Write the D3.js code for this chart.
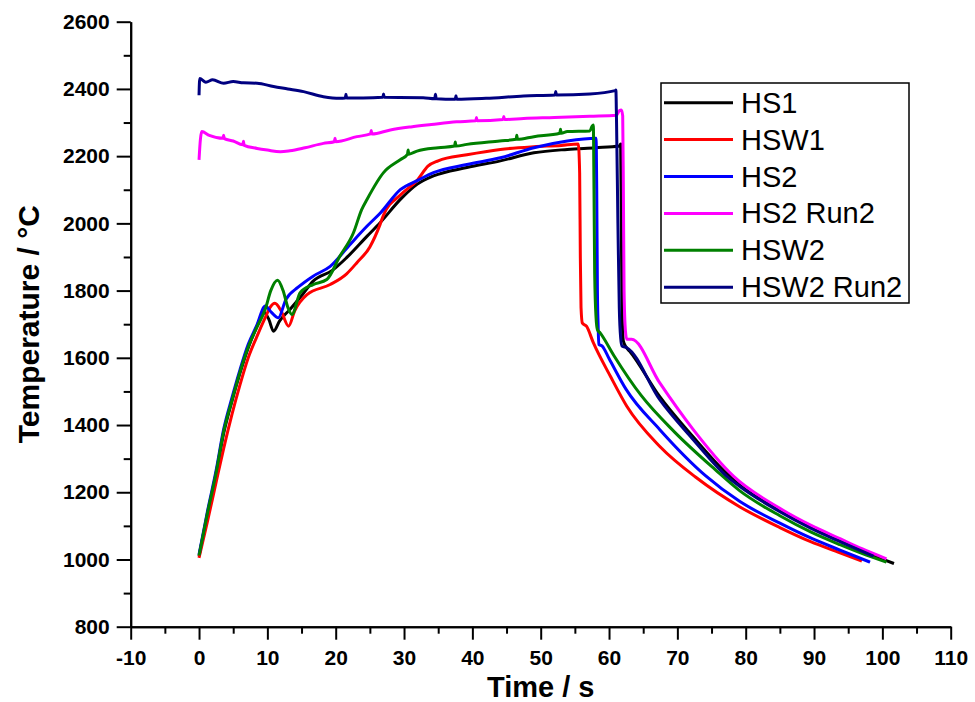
<html>
<head>
    <style>
        body { margin: 0; background: white; font-family: "Liberation Sans", Arial, sans-serif; }
        .axis path, .axis line { stroke: black; stroke-width: 2; }
        .axis text { font-family: "Liberation Sans", Arial, sans-serif; font-weight: bold; font-size: 21px; fill: black; }
    </style>
    <script src="https://cdn.jsdelivr.net/npm/d3@7"></script>
</head>
<body>
<div id="chart"></div>
<script>
    // [time s, temperature °C]
    let hs1 = [[0,1010],[1.2,1130],[2.5,1255],[3.6,1375],[4.8,1470],[6,1555],[7.2,1630],[8.4,1690],[9.5,1735],[10.2,1715],[10.9,1679],[11.8,1710],[13.3,1744],[15.2,1790],[16.7,1828],[19.5,1860],[21.6,1898],[24.6,1962],[26.5,2002],[29.5,2072],[31.9,2116],[34.3,2141],[39.2,2166],[44.1,2186],[49,2210],[53.9,2220],[58,2225],[61.5,2230],[61.7,2236],[61.8,2000],[61.9,1750],[62.1,1650],[62.5,1632],[63,1620],[67.4,1485],[72.3,1365],[77.2,1256],[79.1,1222],[85,1146],[89.5,1097],[93.8,1057],[97.5,1022],[101.7,988]];
    let hsw1 = [[0,1005],[1.2,1110],[2.5,1230],[3.6,1330],[4.8,1430],[6,1520],[7.2,1600],[8.4,1660],[9.7,1720],[10.4,1750],[11.1,1762],[12,1740],[13.1,1694],[14,1740],[15.8,1788],[19.2,1818],[21.6,1850],[23.1,1883],[25,1930],[26.5,1997],[27,2025],[29.5,2085],[32,2130],[33.5,2170],[35,2186],[39.2,2204],[44.1,2220],[49,2228],[53,2232],[55.5,2236],[55.7,2150],[55.8,1900],[55.9,1750],[56.1,1703],[56.7,1694],[57.7,1645],[60.2,1545],[62.6,1456],[67.4,1337],[72.8,1243],[79.1,1157],[85,1095],[89.5,1053],[93.8,1020],[97,995]];
    let hs2 = [[0,1015],[1.2,1140],[2.5,1265],[3.6,1387],[4.8,1480],[6,1565],[7.2,1640],[8.4,1694],[9.7,1754],[10.6,1735],[11.6,1719],[12.7,1773],[14.5,1810],[16.7,1843],[19.2,1872],[22,1935],[24.6,1992],[26.5,2030],[29.5,2101],[32,2128],[34.3,2151],[39.2,2175],[44.1,2195],[49,2225],[53.9,2245],[58.1,2253],[58.2,2100],[58.3,1800],[58.4,1700],[58.5,1640],[59,1635],[60,1598],[62.5,1506],[67.4,1387],[74.2,1248],[79.1,1173],[85,1108],[89.5,1064],[93.8,1028],[98.2,992]];
    let hs2Run2 = [[0,2189],[0.2,2250],[0.4,2273],[1.5,2262],[3.5,2253],[3.6,2262],[3.7,2252],[5,2245],[6.4,2234],[6.5,2244],[6.6,2232],[8.5,2223],[10,2218],[11.9,2213],[13.3,2216],[15.5,2225],[18.2,2238],[19.8,2243],[19.9,2253],[20,2243],[23.1,2258],[25.1,2266],[25.2,2276],[25.3,2266],[28,2278],[31,2287],[34,2294],[37.7,2302],[40.5,2305],[40.6,2315],[40.7,2305],[44.5,2309],[44.6,2318],[44.7,2309],[47.5,2312],[52,2315],[57.2,2319],[61.1,2322],[61.5,2335],[61.8,2337],[62,2320],[62.1,2100],[62.2,1800],[62.4,1680],[62.6,1655],[63.3,1655],[67.4,1526],[72.3,1387],[78.2,1248],[85,1152],[89.5,1102],[93.8,1062],[97,1032],[100.6,1002]];
    let hsw2 = [[0,1012],[1.2,1135],[2.5,1258],[3.6,1380],[4.8,1472],[6,1558],[7.2,1632],[8.4,1688],[9.7,1745],[10.5,1800],[11.5,1831],[12.3,1800],[13,1750],[13.6,1729],[14.8,1794],[16.7,1818],[18.7,1833],[20.6,1902],[22.6,1972],[23.8,2041],[24.6,2072],[27,2151],[29.5,2190],[30.5,2205],[30.6,2218],[30.7,2206],[31.9,2215],[35,2225],[37.4,2230],[37.5,2242],[37.6,2230],[39.2,2235],[44,2245],[46.4,2250],[46.5,2262],[46.6,2250],[49,2258],[52.8,2268],[52.9,2280],[53,2268],[53.9,2273],[57.2,2275],[57.5,2288],[57.7,2293],[57.8,2100],[57.9,1850],[58.1,1720],[58.3,1684],[58.7,1674],[60.7,1607],[64.7,1488],[69.6,1379],[75.5,1268],[79.1,1205],[85,1130],[89.5,1082],[93.8,1044],[97,1018],[100.6,992]];
    let hsw2Run2 = [[0,2381],[0.1,2431],[1,2420],[2,2427],[3.6,2417],[5,2422],[6.5,2418],[8.5,2417],[10.9,2407],[13,2400],[15.3,2392],[18.2,2377],[20.6,2372],[21.4,2373],[21.5,2384],[21.6,2373],[24,2373],[26.9,2375],[27,2385],[27.1,2375],[32.8,2374],[34.5,2371],[34.6,2384],[34.7,2371],[37.5,2369],[37.6,2380],[37.7,2369],[42,2372],[47.5,2379],[52.1,2382],[52.2,2392],[52.3,2382],[57.2,2385],[60.9,2395],[61,2397],[61.1,2300],[61.3,2000],[61.5,1750],[61.7,1660],[61.9,1635],[62.6,1630],[67.4,1476],[72.3,1357],[77.2,1248],[79.1,1218],[85,1142],[89.5,1093],[93.8,1053],[98.7,1010]];

    let seriesNames = ["HS1", "HSW1", "HS2", "HS2 Run2", "HSW2", "HSW2 Run2"];
    let seriesData = [hs1, hsw1, hs2, hs2Run2, hsw2, hsw2Run2];
    let seriesColors = ["#000000", "#ff0000", "#0000ff", "#ff00ff", "#008000", "#000080"];

    let xMajor = d3.range(-10, 111, 10);
    let xMinor = d3.range(-5, 110, 10);
    let yMajor = d3.range(800, 2601, 200);
    let yMinor = d3.range(900, 2600, 200);

    function getChartConfig() {
        let width = 975;
        let height = 702;
        let svg = d3.select("#chart")
            .append("svg")
            .attr("width", width)
            .attr("height", height);
        return { width, height, svg };
    }

    function getChartScales() {
        let xScale = d3.scaleLinear().domain([-10, 110]).range([130.7, 950.7]);
        let yScale = d3.scaleLinear().domain([800, 2600]).range([626.7, 21.7]);
        return { xScale, yScale };
    }

    function drawAxes(scales, config) {
        let { xScale, yScale } = scales;
        let { svg } = config;
        let x0 = xScale.range()[0];
        let y0 = yScale.range()[0];
        let plain = d => String(d);

        svg.append("g").attr("class", "axis")
            .attr("transform", "translate(0," + y0 + ")")
            .call(d3.axisBottom(xScale).tickValues(xMinor).tickSize(7).tickSizeOuter(0).tickFormat(""));
        svg.append("g").attr("class", "axis")
            .attr("transform", "translate(0," + y0 + ")")
            .call(d3.axisBottom(xScale).tickValues(xMajor).tickSize(13).tickSizeOuter(0).tickPadding(10).tickFormat(plain));

        svg.append("g").attr("class", "axis")
            .attr("transform", "translate(" + x0 + ",0)")
            .call(d3.axisLeft(yScale).tickValues(yMinor).tickSize(7).tickSizeOuter(0).tickFormat(""));
        svg.append("g").attr("class", "axis")
            .attr("transform", "translate(" + x0 + ",0)")
            .call(d3.axisLeft(yScale).tickValues(yMajor).tickSize(14).tickSizeOuter(0).tickPadding(7).tickFormat(plain));

        svg.append("text")
            .attr("x", (xScale.range()[0] + xScale.range()[1]) / 2)
            .attr("y", 697)
            .attr("text-anchor", "middle")
            .style("font-weight", "bold")
            .style("font-size", "29px")
            .text("Time / s");

        svg.append("text")
            .attr("transform", "translate(39," + (yScale.range()[0] + yScale.range()[1]) / 2 + ") rotate(-90)")
            .attr("text-anchor", "middle")
            .style("font-weight", "bold")
            .style("font-size", "30px")
            .text("Temperature / °C");
    }

    function drawLines(scales, config) {
        let { xScale, yScale } = scales;
        let { svg } = config;
        let line = d3.line()
            .curve(d3.curveMonotoneX)
            .x(d => xScale(d[0]))
            .y(d => yScale(d[1]));
        seriesData.forEach((data, i) => {
            svg.append("path")
                .datum(data)
                .attr("fill", "none")
                .attr("stroke", seriesColors[i])
                .attr("stroke-width", 3)
                .attr("stroke-linejoin", "round")
                .attr("d", line);
        });
    }

    function drawLegend(config) {
        let { svg } = config;
        let legend = svg.append("g").attr("transform", "translate(661,83)");
        legend.append("rect")
            .attr("width", 248)
            .attr("height", 220)
            .attr("fill", "white")
            .attr("stroke", "black")
            .attr("stroke-width", 1.5);
        seriesNames.forEach((name, i) => {
            let y = 19.7 + i * 36.9;
            legend.append("line")
                .attr("x1", 3).attr("x2", 72)
                .attr("y1", y).attr("y2", y)
                .attr("stroke", seriesColors[i])
                .attr("stroke-width", 3);
            legend.append("text")
                .attr("x", 80)
                .attr("y", y + 10)
                .style("font-size", "29px")
                .text(name);
        });
    }

    function showData() {
        let config = getChartConfig();
        let scales = getChartScales();
        drawAxes(scales, config);
        drawLines(scales, config);
        drawLegend(config);
    }
    showData();
</script>
</body>
</html>
